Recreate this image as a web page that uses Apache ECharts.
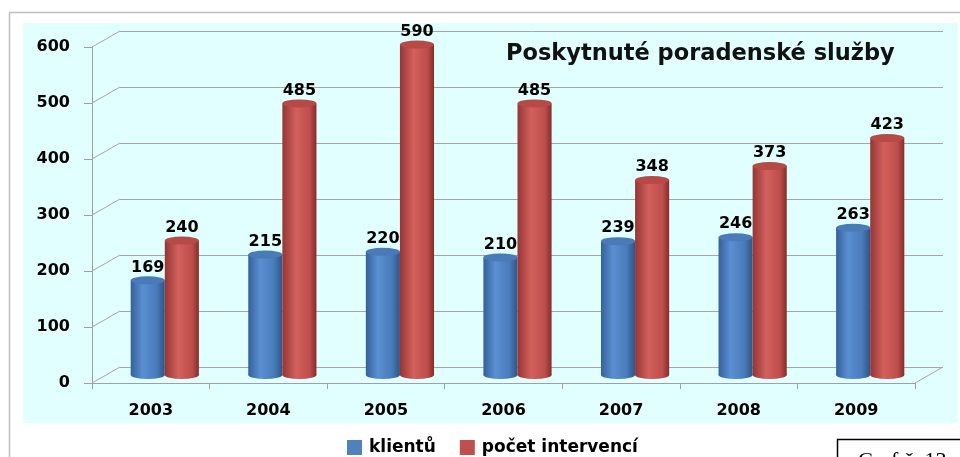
<!DOCTYPE html>
<html>
<head>
<meta charset="utf-8">
<script src="https://cdn.jsdelivr.net/npm/echarts@6/dist/echarts.min.js"></script>
<style>
  html, body { margin: 0; padding: 0; background: #fff; }
  #chart { width: 960px; height: 457px; }
</style>
</head>
<body>
<div id="chart"></div>
<script>
// data
const categories = ['2003', '2004', '2005', '2006', '2007', '2008', '2009']
const klientu = [169, 215, 220, 210, 239, 246, 263]
const intervenci = [240, 485, 590, 485, 348, 373, 423]
const yTicks = [0, 100, 200, 300, 400, 500, 600]

const FONT = 'DejaVu Sans'
// 3D depth: back wall is shifted right / up from the front axis
const DX = 28, DY = -16

const blueGrad = {
  type: 'linear', x: 0, y: 0, x2: 1, y2: 0,
  colorStops: [
    { offset: 0, color: '#35609A' },
    { offset: 0.35, color: '#5A8FD2' },
    { offset: 0.75, color: '#4A7CBC' },
    { offset: 1, color: '#2F5585' }
  ]
}
const redGrad = {
  type: 'linear', x: 0, y: 0, x2: 1, y2: 0,
  colorStops: [
    { offset: 0, color: '#953634' },
    { offset: 0.4, color: '#D2605D' },
    { offset: 0.8, color: '#BE4E4B' },
    { offset: 1, color: '#842D2B' }
  ]
}

// cylinder bar: side + bottom ellipse + top ellipse + value label
function cylinder(slot, grad, topColor) {
  return function (params, api) {
    const idx = api.value(0)
    const v = api.value(1)
    const top = api.coord([idx, v])
    const base = api.coord([idx, 0])
    const band = api.size([1, 0])[0]
    const w = band * 0.29
    const x0 = top[0] - w + slot * w
    const cx = x0 + w / 2
    const rx = w / 2, ry = 4
    return {
      type: 'group',
      children: [
        { type: 'circle', x: cx, y: base[1], scaleY: ry / rx, shape: { cx: 0, cy: 0, r: rx }, style: { fill: grad } },
        { type: 'rect', shape: { x: x0, y: top[1], width: w, height: base[1] - top[1] }, style: { fill: grad } },
        { type: 'circle', x: cx, y: top[1], scaleY: ry / rx, shape: { cx: 0, cy: 0, r: rx }, style: { fill: topColor } },
        {
          type: 'text', x: cx, y: top[1] - 13,
          style: { text: String(v), fill: '#000', font: 'bold 16px ' + FONT, align: 'center', verticalAlign: 'middle' }
        }
      ]
    }
  }
}

const chart = echarts.init(document.getElementById('chart'))

chart.setOption({
  animation: false,
  title: {
    text: 'Poskytnuté poradenské služby',
    left: 506, top: 43, padding: 0,
    textStyle: { fontFamily: FONT, fontWeight: 'bold', fontSize: 22.5, color: '#111' }
  },
  legend: {
    data: ['klientů', 'počet intervencí'],
    left: 347, top: 439, padding: 0,
    icon: 'rect', itemWidth: 15, itemHeight: 15, itemGap: 24,
    textStyle: { fontFamily: FONT, fontWeight: 'bold', fontSize: 17, color: '#000', padding: [0, 0, 0, 2] }
  },
  graphic: {
    elements: [
      { type: 'rect', z: -20, shape: { x: 9.5, y: 12.5, width: 1000, height: 500 }, style: { fill: '#fff', stroke: '#BFBFBF', lineWidth: 1.5 } },
      { type: 'rect', z: -19, shape: { x: 23, y: 23, width: 935, height: 400 }, style: { fill: '#E1FFFF' } },
      { type: 'rect', z: 100, shape: { x: 837.5, y: 439.5, width: 200, height: 60 }, style: { fill: '#fff', stroke: '#000', lineWidth: 1.5 } },
      { type: 'text', z: 101, x: 858, y: 450, style: { text: 'Graf č. 13', font: '22px "Liberation Serif"', fill: '#000' } }
    ]
  },
  grid: [
    { left: 92, top: 47, width: 823, height: 336 },   // front axes
    { left: 120, top: 31, width: 823, height: 336 },  // back wall
    { left: 106, top: 39, width: 823, height: 336 }   // bars (mid depth)
  ],
  xAxis: [
    {
      gridIndex: 0, type: 'category', data: categories,
      axisLine: { lineStyle: { color: '#A0A0A0', width: 1 } },
      axisTick: { show: true, length: 6, lineStyle: { color: '#A0A0A0' } },
      axisLabel: { color: '#000', fontFamily: FONT, fontWeight: 'bold', fontSize: 16, margin: 20 }
    },
    { gridIndex: 1, type: 'category', data: categories, show: false },
    { gridIndex: 2, type: 'category', data: categories, show: false }
  ],
  yAxis: [
    {
      gridIndex: 0, type: 'value', min: 0, max: 600, interval: 100,
      axisLine: { show: true, lineStyle: { color: '#A0A0A0', width: 1 } },
      axisTick: { show: true, length: 8, lineStyle: { color: '#A0A0A0' } },
      splitLine: { show: false },
      axisLabel: { color: '#000', fontFamily: FONT, fontWeight: 'bold', fontSize: 16, margin: 22 }
    },
    {
      gridIndex: 1, type: 'value', min: 0, max: 600, interval: 100,
      axisLine: { show: false }, axisTick: { show: false }, axisLabel: { show: false },
      splitLine: { show: true, lineStyle: { color: '#A6A6A6', width: 1 } }
    },
    { gridIndex: 2, type: 'value', min: 0, max: 600, interval: 100, show: false }
  ],
  series: [
    {
      // diagonal connectors from front ticks to back wall lines
      type: 'custom', xAxisIndex: 0, yAxisIndex: 0, clip: false, silent: true,
      data: yTicks.map(function (v) { return [0, v] }),
      renderItem: function (params, api) {
        const cs = params.coordSys
        const y = api.coord([0, api.value(1)])[1]
        const ls = { stroke: '#A6A6A6', lineWidth: 1 }
        const kids = [{ type: 'line', shape: { x1: cs.x, y1: y, x2: cs.x + DX, y2: y + DY }, style: ls }]
        if (api.value(1) === 0) {
          kids.push({ type: 'line', shape: { x1: cs.x + cs.width, y1: y, x2: cs.x + cs.width + DX, y2: y + DY }, style: ls })
        }
        return { type: 'group', children: kids }
      }
    },
    {
      name: 'klientů', type: 'custom', xAxisIndex: 2, yAxisIndex: 2, clip: false,
      itemStyle: { color: '#4F81BD' },
      data: categories.map(function (c, i) { return [i, klientu[i]] }),
      renderItem: cylinder(0, blueGrad, '#4A7AB7')
    },
    {
      name: 'počet intervencí', type: 'custom', xAxisIndex: 2, yAxisIndex: 2, clip: false,
      itemStyle: { color: '#C0504D' },
      data: categories.map(function (c, i) { return [i, intervenci[i]] }),
      renderItem: cylinder(1, redGrad, '#B64A47')
    }
  ]
})
</script>
</body>
</html>
